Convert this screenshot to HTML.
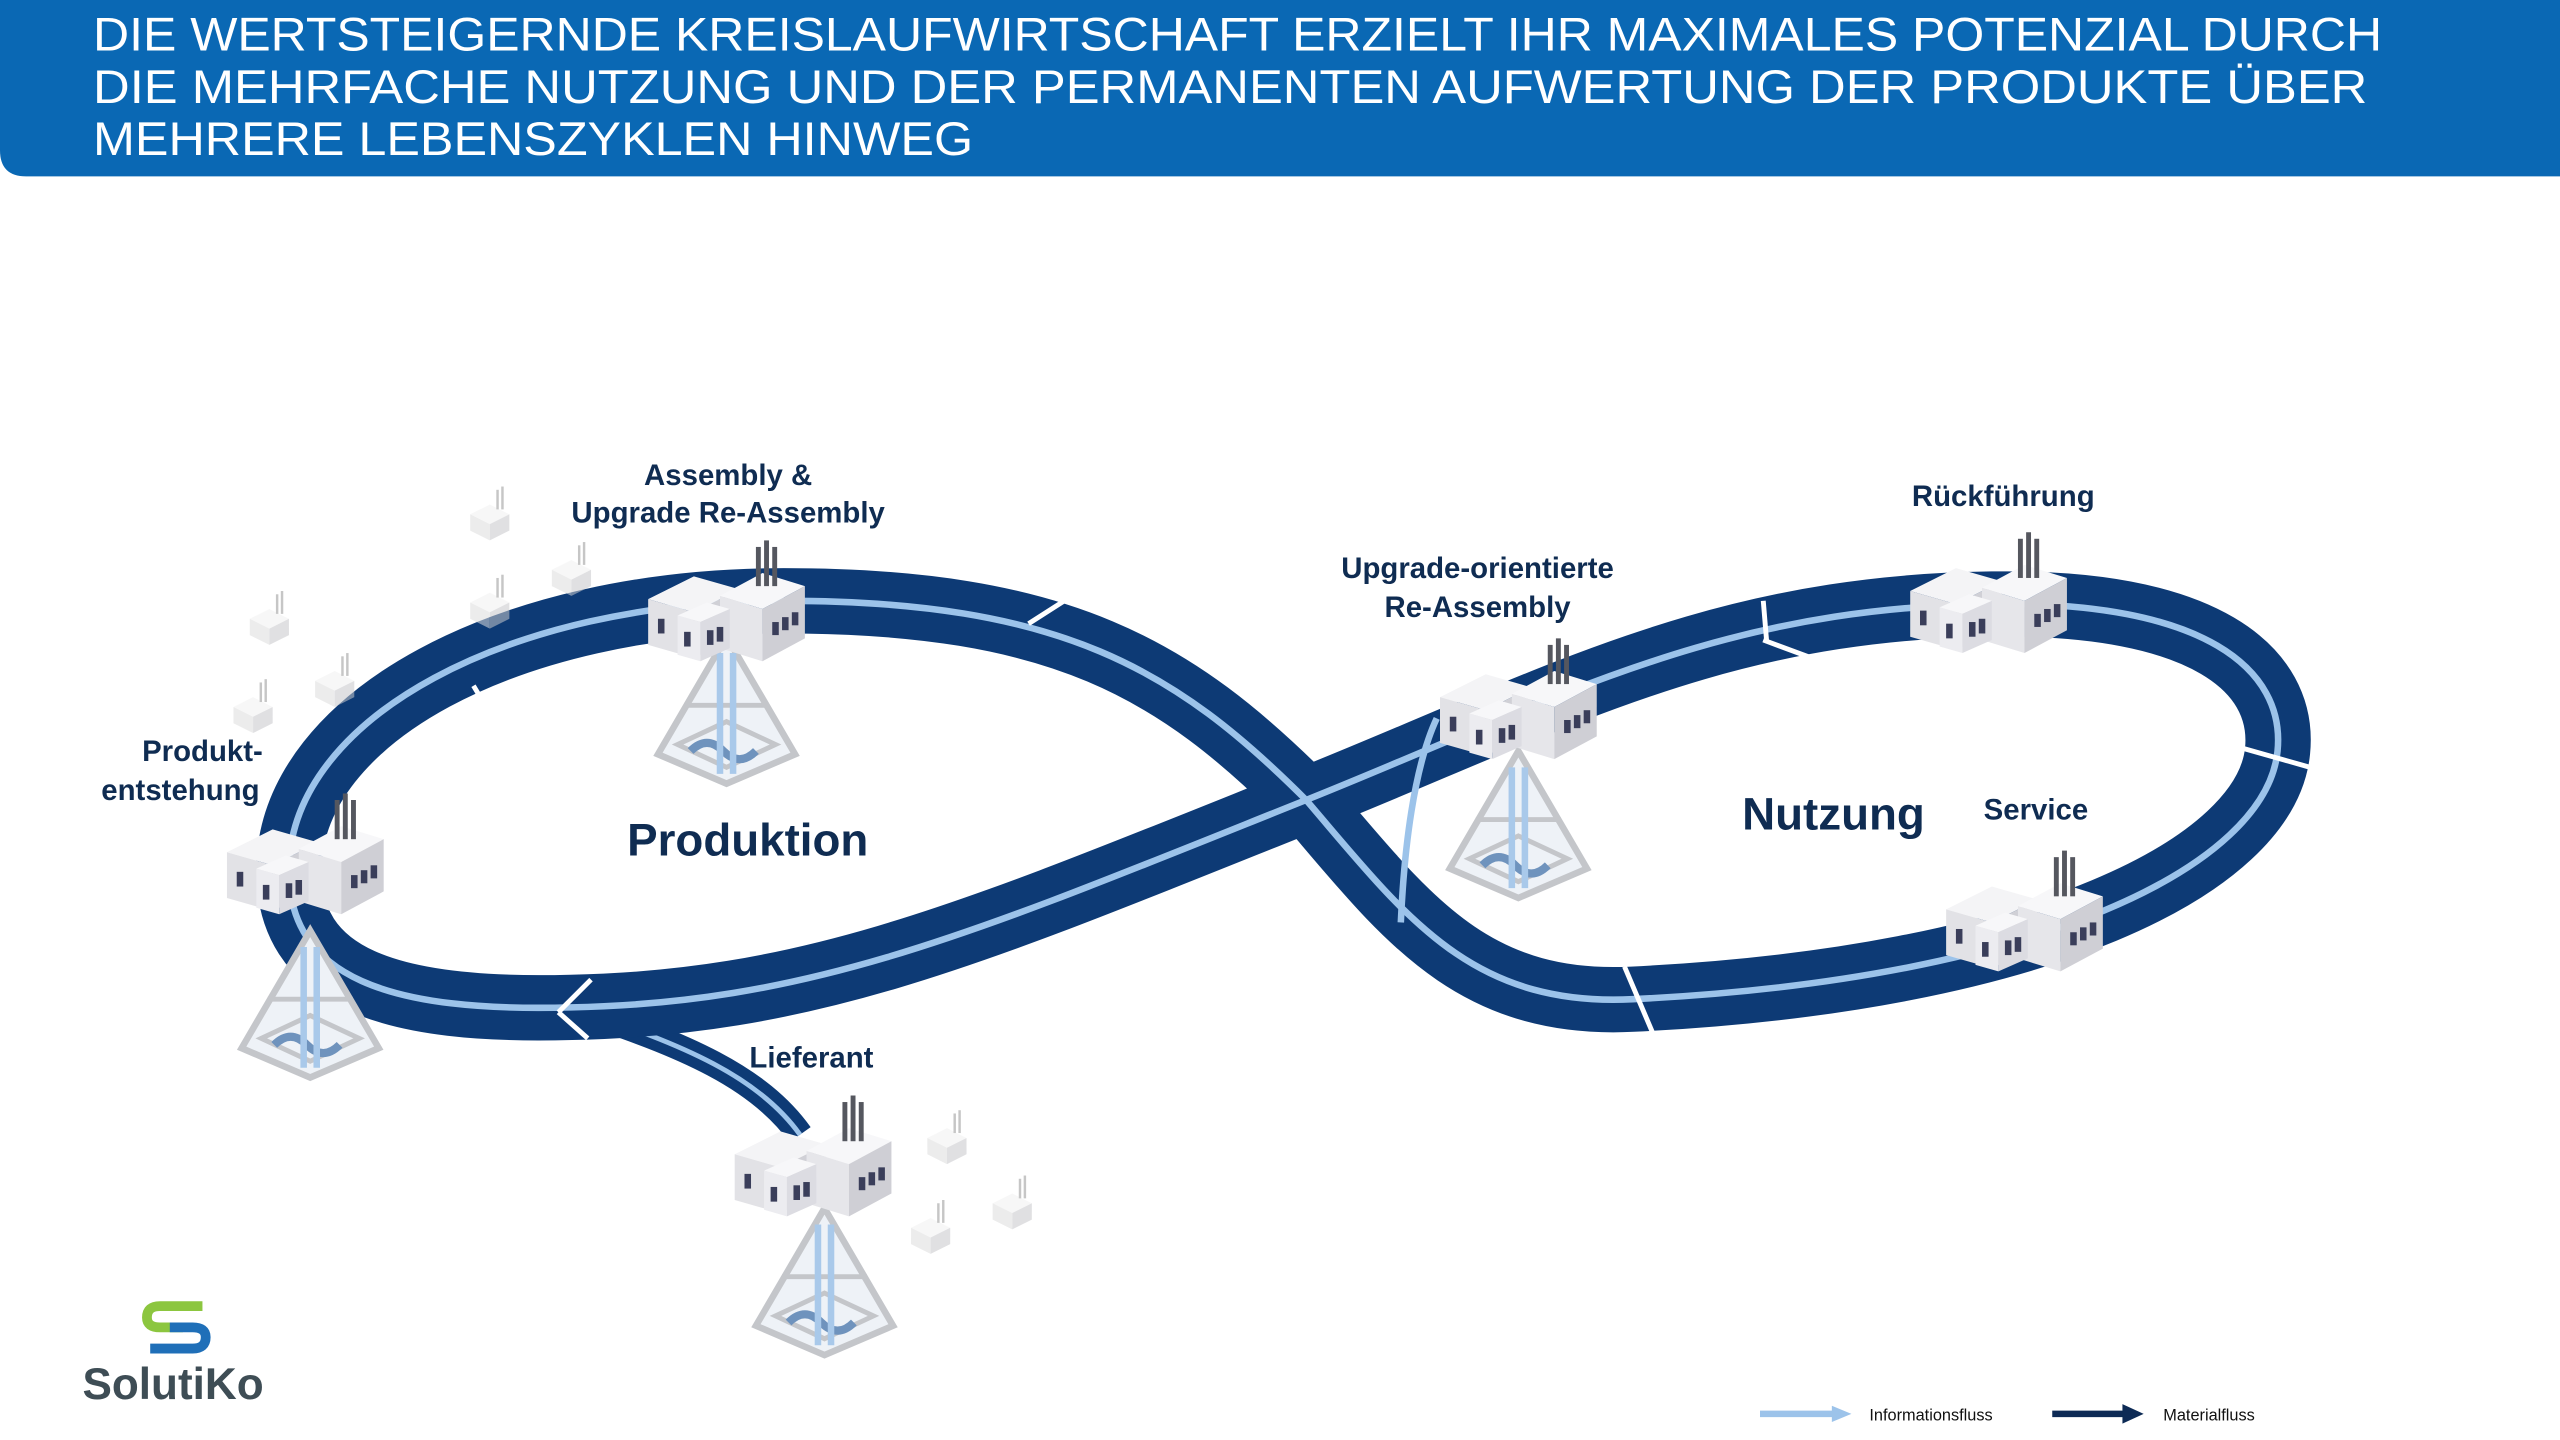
<!DOCTYPE html>
<html><head><meta charset="utf-8"><style>
html,body{margin:0;padding:0;background:#fff;width:2560px;height:1440px;overflow:hidden}
svg{display:block}
text{font-family:"Liberation Sans",sans-serif}
.lb{font-weight:bold;fill:#0f2c52}
</style></head><body>
<svg width="2560" height="1440" viewBox="0 0 1568 882" xmlns="http://www.w3.org/2000/svg">
<defs>
<g id="fac">
  <polygon points="-48,-8 -20,-22 8,-14 -20,0" fill="#f4f4f6"/>
  <polygon points="-48,-8 -20,0 -20,28 -48,20" fill="#e2e2e6"/>
  <polygon points="-20,0 8,-14 8,14 -20,28" fill="#d0d0d6"/>
  <polygon points="-4,-10 22,-24 48,-16 22,-2" fill="#f7f7f9"/>
  <polygon points="-4,-10 22,-2 22,30 -4,22" fill="#e6e6ea"/>
  <polygon points="22,-2 48,-16 48,16 22,30" fill="#cfcfd5"/>
  <polygon points="-30,2 -12,-6 2,-2 -16,6" fill="#f7f7f9"/>
  <polygon points="-30,2 -16,6 -16,30 -30,26" fill="#ececf0"/>
  <polygon points="-16,6 2,-2 2,22 -16,30" fill="#dcdce2"/>
  <rect x="-42" y="4" width="4" height="9" fill="#3a3e5a"/>
  <rect x="-26" y="12" width="4" height="9" fill="#3a3e5a"/>
  <rect x="-12" y="11" width="4" height="9" fill="#3a3e5a"/>
  <rect x="-6" y="9" width="4" height="9" fill="#3a3e5a"/>
  <rect x="28" y="6" width="4" height="8" fill="#3a3e5a"/>
  <rect x="34" y="3" width="4" height="8" fill="#3a3e5a"/>
  <rect x="40" y="0" width="4" height="8" fill="#3a3e5a"/>
  <rect x="18" y="-40" width="3" height="24" fill="#55575f"/>
  <rect x="23" y="-44" width="3" height="28" fill="#55575f"/>
  <rect x="28" y="-40" width="3" height="24" fill="#55575f"/>
</g>
<g id="pyr">
  <polygon points="0,-50 42,22 0,40 -42,22" fill="#eef2f7" stroke="#c4c6ca" stroke-width="4"/>
  <polygon points="0,2 30,16 0,30 -30,16" fill="none" stroke="#c4c6ca" stroke-width="3"/>
  <line x1="-26" y1="-8" x2="26" y2="-8" stroke="#c4c6ca" stroke-width="3"/>
  <path d="M-22,20 q10,-10 20,0 q10,10 20,0" stroke="#6f93bd" stroke-width="5" fill="none"/>
  <path d="M-4,34 L-4,-40 M4,34 L4,-40" stroke="#a9c9ea" stroke-width="4"/>
</g>
<g id="mini" opacity="0.55">
  <polygon points="-12,-3 0,-9 12,-3 0,3" fill="#f2f2f2"/>
  <polygon points="-12,-3 0,3 0,13 -12,7" fill="#ddd"/>
  <polygon points="0,3 12,-3 12,7 0,13" fill="#c8c8cc"/>
  <rect x="4" y="-18" width="1.5" height="12" fill="#999"/>
  <rect x="7" y="-20" width="1.5" height="14" fill="#999"/>
</g>
</defs>

<path d="M0,0 H1568 V108 H16 Q0,108 0,92 Z" fill="#0a68b4"/>
<text x="57" y="31" font-size="29" fill="#fff" textLength="1402" lengthAdjust="spacingAndGlyphs">DIE WERTSTEIGERNDE KREISLAUFWIRTSCHAFT ERZIELT IHR MAXIMALES POTENZIAL DURCH</text>
<text x="57" y="63" font-size="29" fill="#fff" textLength="1393" lengthAdjust="spacingAndGlyphs">DIE MEHRFACHE NUTZUNG UND DER PERMANENTEN AUFWERTUNG DER PRODUKTE ÜBER</text>
<text x="57" y="95" font-size="29" fill="#fff" textLength="539" lengthAdjust="spacingAndGlyphs">MEHRERE LEBENSZYKLEN HINWEG</text>

<path d="M352,618 C420,640 465,660 490,695" stroke="#0d3a75" stroke-width="16" fill="none"/>
<path d="M352,618 C420,640 465,660 490,695" stroke="#9cc3ea" stroke-width="3" fill="none"/>

<path d="M800,490 C720,410 650,368 480,368 C310,368 180,440 177,530 C175,600 240,620 350,617 C500,614 600,570 800,490 C950,430 1050,372 1220,370 C1350,368 1400,410 1395,460 C1388,530 1250,600 1000,612 C900,617 860,560 800,490 Z" stroke="#0d3a75" stroke-width="40" fill="none" stroke-linejoin="round"/>
<path d="M800,490 C720,410 650,368 480,368 C310,368 180,440 177,530 C175,600 240,620 350,617 C500,614 600,570 800,490 C950,430 1050,372 1220,370 C1350,368 1400,410 1395,460 C1388,530 1250,600 1000,612 C900,617 860,560 800,490 Z" stroke="#9cc3ea" stroke-width="4" fill="none"/>
<path d="M880,440 C866,470 860,520 858,565" stroke="#9cc3ea" stroke-width="4" fill="none"/>
<g stroke="#fff" stroke-width="3">
<line x1="290" y1="420" x2="305" y2="445"/>
<line x1="630" y1="382" x2="655" y2="366"/>
<line x1="1080" y1="368" x2="1082" y2="392"/>
<line x1="1080" y1="392" x2="1115" y2="405"/>
<line x1="1362" y1="455" x2="1415" y2="470"/>
<line x1="995" y1="592" x2="1012" y2="632"/>
<line x1="342" y1="620" x2="362" y2="600"/>
<line x1="342" y1="620" x2="360" y2="636"/>
</g>

<use href="#mini" x="300" y="318"/><use href="#mini" x="350" y="352"/><use href="#mini" x="300" y="372"/>
<use href="#mini" x="165" y="382"/><use href="#mini" x="205" y="420"/><use href="#mini" x="155" y="436"/>
<use href="#mini" x="580" y="700"/><use href="#mini" x="620" y="740"/><use href="#mini" x="570" y="755"/>

<use href="#pyr" x="445" y="440"/>
<use href="#pyr" x="190" y="620"/>
<use href="#pyr" x="930" y="510"/>
<use href="#pyr" x="505" y="790"/>

<use href="#fac" x="445" y="375"/>
<use href="#fac" x="187" y="530"/>
<use href="#fac" x="930" y="435"/>
<use href="#fac" x="1218" y="370"/>
<use href="#fac" x="1240" y="565"/>
<use href="#fac" x="498" y="715"/>

<text class="lb" x="446" y="297" font-size="18" text-anchor="middle">Assembly &amp;</text>
<text class="lb" x="446" y="320" font-size="18" text-anchor="middle">Upgrade Re-Assembly</text>
<text class="lb" x="161" y="466" font-size="18" text-anchor="end">Produkt-</text>
<text class="lb" x="159" y="490" font-size="18" text-anchor="end">entstehung</text>
<text class="lb" x="905" y="354" font-size="18" text-anchor="middle">Upgrade-orientierte</text>
<text class="lb" x="905" y="378" font-size="18" text-anchor="middle">Re-Assembly</text>
<text class="lb" x="1227" y="310" font-size="18" text-anchor="middle">Rückführung</text>
<text class="lb" x="1247" y="502" font-size="18" text-anchor="middle">Service</text>
<text class="lb" x="497" y="654" font-size="18" text-anchor="middle">Lieferant</text>
<text class="lb" x="458" y="524" font-size="28" text-anchor="middle">Produktion</text>
<text class="lb" x="1123" y="508" font-size="28" text-anchor="middle">Nutzung</text>

<path d="M124,800 H98 Q90,800 90,807 Q90,813 98,813 H112" stroke="#8cc63f" stroke-width="6" fill="none"/>
<path d="M92,826 H118 Q126,826 126,819 Q126,813 118,813 H104" stroke="#1f6fb8" stroke-width="6" fill="none"/>
<text x="106" y="857" font-size="27" font-weight="bold" fill="#3e4d55" text-anchor="middle">SolutiKo</text>

<line x1="1078" y1="866" x2="1124" y2="866" stroke="#9cc3ea" stroke-width="4"/>
<polygon points="1122,861 1134,866 1122,871" fill="#9cc3ea"/>
<text x="1145" y="870" font-size="10" fill="#111">Informationsfluss</text>
<line x1="1257" y1="866" x2="1302" y2="866" stroke="#0d2a55" stroke-width="4"/>
<polygon points="1300,860 1313,866 1300,872" fill="#0d2a55"/>
<text x="1325" y="870" font-size="10" fill="#111">Materialfluss</text>
</svg>
</body></html>
